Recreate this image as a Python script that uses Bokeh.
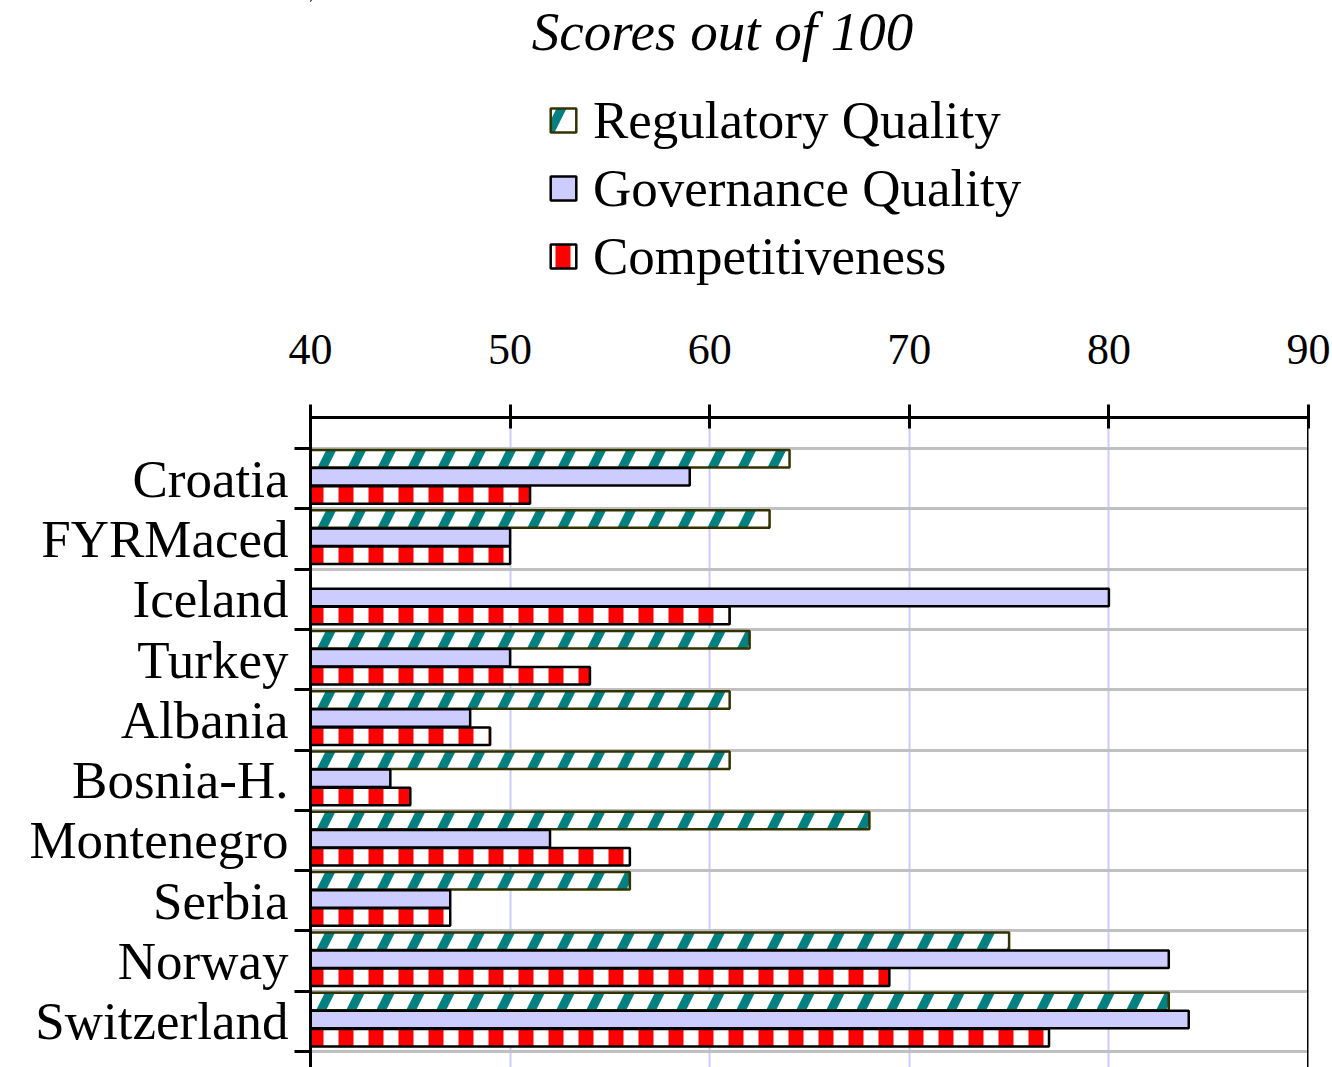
import numpy as np
from bokeh.plotting import figure
from bokeh.layouts import column
from bokeh.models import ColumnDataSource, FixedTicker, Range1d, Span, Label, Legend, LegendItem
from bokeh.embed import file_html
from bokeh.resources import INLINE

# ---------------- data ----------------
countries = ["Croatia", "FYRMaced", "Iceland", "Turkey", "Albania",
             "Bosnia-H.", "Montenegro", "Serbia", "Norway", "Switzerland"]
regulatory_quality = [64, 63, float("nan"), 62, 61, 61, 68, 56, 75, 83]
governance_quality = [59, 50, 80, 50, 48, 44, 52, 47, 83, 84]
competitiveness = [51, 50, 61, 54, 49, 45, 56, 47, 69, 77]
x_ticks = [40, 50, 60, 70, 80, 90]
series_names = ["Regulatory Quality", "Governance Quality", "Competitiveness"]
title_text = "Scores out of 100"

# ---------------- styles ----------------
serif = "Liberation Serif"
STYLE_RQ = dict(fill_color="white", line_color="#333300", line_width=2.5,
                hatch_pattern="right_diagonal_line", hatch_color="#008080",
                hatch_scale=60, hatch_weight=9)
STYLE_GQ = dict(fill_color="#ccccff", line_color="black", line_width=2.5)
STYLE_CP = dict(fill_color="white", line_color="black", line_width=2.5,
                hatch_pattern="vertical_line", hatch_color="#ff0000",
                hatch_scale=30, hatch_weight=15)

W = 1332
HEAD_H = 300
FRAME_L, FRAME_R = 310, 1308

# ---------------- header (title + legend) ----------------
head = figure(width=W, height=HEAD_H, output_backend="svg", toolbar_location=None,
              x_axis_location=None, y_axis_location=None,
              x_range=Range1d(FRAME_L, FRAME_R), y_range=Range1d(HEAD_H, 0),
              min_border_left=FRAME_L, min_border_right=W - FRAME_R, min_border_top=0,
              min_border_bottom=0)
head.outline_line_color = None
head.xgrid.visible = False
head.ygrid.visible = False

# legend proxies: one bar each, placed far outside the visible canvas
proxy = dict(y=[-50000], left=[-50000], right=[-49999], height=1)
e_rq = head.hbar(**proxy, **STYLE_RQ)
e_gq = head.hbar(**proxy, **STYLE_GQ)
e_cp = head.hbar(**proxy, **STYLE_CP)

legend = Legend(items=[LegendItem(label=series_names[0], renderers=[e_rq]),
                       LegendItem(label=series_names[1], renderers=[e_gq]),
                       LegendItem(label=series_names[2], renderers=[e_cp])],
                location=(547 - FRAME_L, HEAD_H - 286), orientation="vertical",
                label_text_font=serif, label_text_font_size="53px",
                label_text_color="black",
                glyph_width=32, glyph_height=30, label_standoff=14,
                spacing=8, padding=0, margin=0,
                border_line_color=None, background_fill_alpha=0)
head.add_layout(legend, "center")

head.add_layout(Label(x=722, y=31, text=title_text, text_align="center",
                      text_baseline="middle", text_font=serif,
                      text_font_style="italic", text_font_size="55px",
                      text_color="black"))

# ---------------- main chart ----------------
X0, X1 = 40, 90
n = len(countries)
idx = np.arange(n)

p = figure(width=W, height=1067 - HEAD_H, output_backend="svg", toolbar_location=None,
           x_axis_location="above",
           x_range=Range1d(X0, X1), y_range=Range1d(10.265, -0.514),
           min_border_left=FRAME_L, min_border_right=W - FRAME_R,
           min_border_top=417 - HEAD_H, min_border_bottom=0)
p.outline_line_color = None

# grids
p.xgrid.ticker = FixedTicker(ticks=x_ticks)
p.xgrid.grid_line_color = "#ccccff"
p.xgrid.grid_line_width = 2
p.ygrid.ticker = FixedTicker(ticks=list(range(n + 1)))
p.ygrid.grid_line_color = "#c0c0c0"
p.ygrid.grid_line_width = 3

# x axis (top)
xa = p.xaxis[0]
xa.ticker = FixedTicker(ticks=x_ticks)
xa.axis_line_width = 3
xa.axis_line_color = "black"
xa.major_tick_line_width = 3
xa.major_tick_line_color = "black"
xa.major_tick_in = 11
xa.major_tick_out = 13
xa.minor_tick_line_color = None
xa.major_label_text_font = serif
xa.major_label_text_font_size = "44px"
xa.major_label_text_color = "black"
xa.major_label_standoff = 41

# y axis (left): labels at band centres, ticks at band boundaries
ya = p.yaxis[0]
centers = [i + 0.5 for i in range(n)]
ya.ticker = FixedTicker(ticks=centers, minor_ticks=list(range(n + 1)))
ya.major_label_overrides = {c: name for c, name in zip(centers, countries)}
ya.axis_line_width = 3
ya.axis_line_color = "black"
ya.major_tick_line_color = None
ya.major_tick_in = 0
ya.major_tick_out = 0
ya.minor_tick_in = 0
ya.minor_tick_out = 16
ya.minor_tick_line_width = 3
ya.minor_tick_line_color = "black"
ya.major_label_text_font = serif
ya.major_label_text_font_size = "53px"
ya.major_label_text_color = "black"
ya.major_label_standoff = 6

# right border
p.add_layout(Span(location=X1, dimension="height", line_color="black", line_width=3))

# bars
bar_h = 0.29
src_rq = ColumnDataSource(dict(y=idx + 0.17, right=regulatory_quality))
src_gq = ColumnDataSource(dict(y=idx + 0.47, right=governance_quality))
src_cp = ColumnDataSource(dict(y=idx + 0.77, right=competitiveness))

p.hbar(y="y", left=X0, right="right", height=bar_h, source=src_rq, **STYLE_RQ)
p.hbar(y="y", left=X0, right="right", height=bar_h, source=src_gq, **STYLE_GQ)
p.hbar(y="y", left=X0, right="right", height=bar_h, source=src_cp, **STYLE_CP)

layout = column(head, p, spacing=0)
open("out.html", "w").write(file_html(layout, INLINE))
